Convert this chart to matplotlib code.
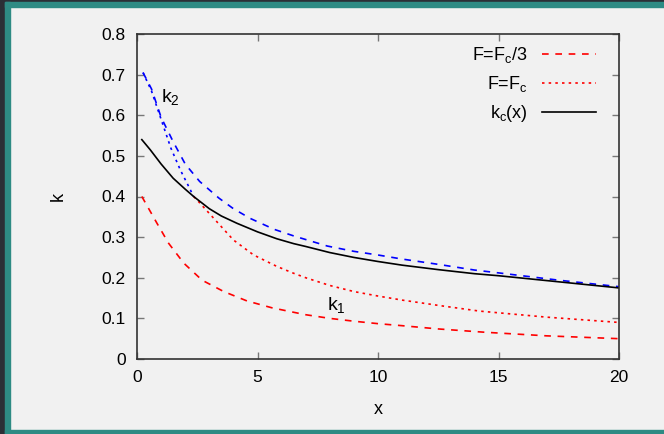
import matplotlib
matplotlib.use("Agg")
import matplotlib.pyplot as plt
from matplotlib.patches import Rectangle

plt.rcParams['font.family'] = ['Liberation Sans', 'DejaVu Sans']
plt.rcParams['mathtext.fontset'] = 'custom'
plt.rcParams['mathtext.rm'] = 'Liberation Sans'
plt.rcParams['mathtext.it'] = 'Liberation Sans'

# data
kc_x = [0.2, 0.55, 1.0, 1.5, 2.0, 2.35, 3.0, 3.5, 4.15, 5.0, 5.8, 6.5, 7.0, 8.0, 9.0, 10, 11, 12.5, 14, 15, 17.5, 20]
kc_y = [0.54, 0.515, 0.48, 0.445, 0.418, 0.40, 0.37, 0.352, 0.334, 0.313, 0.296, 0.284, 0.277, 0.262, 0.25, 0.240, 0.231, 0.22, 0.21, 0.205, 0.19, 0.175]

k2_third_x = [0.25, 0.6, 1.0, 1.5, 2.0, 2.6, 3.4, 4.0, 4.7, 5.7, 6.5, 7.9, 9.0, 10, 11, 12.5, 14, 15, 17.5, 20]
k2_third_y = [0.705, 0.665, 0.595, 0.535, 0.48, 0.437, 0.396, 0.37, 0.346, 0.319, 0.303, 0.278, 0.265, 0.256, 0.246, 0.233, 0.219, 0.212, 0.194, 0.178]

k1_third_x = [0.2, 0.83, 1.31, 1.94, 2.7, 3.6, 4.56, 5.6, 6.5, 7.0, 8.0, 9.0, 10, 11, 12.5, 14.4, 17, 20]
k1_third_y = [0.40, 0.334, 0.285, 0.236, 0.194, 0.166, 0.143, 0.126, 0.115, 0.109, 0.100, 0.093, 0.087, 0.082, 0.074, 0.066, 0.057, 0.05]

k2_fc_x = [0.25, 0.6, 1.0, 1.4, 1.8, 2.1, 2.35]
k2_fc_y = [0.705, 0.66, 0.59, 0.52, 0.465, 0.43, 0.40]

k1_fc_x = [2.35, 2.56, 3.25, 4.0, 4.84, 5.8, 6.5, 7.0, 8.0, 9.0, 10, 11, 12.5, 14.2, 17, 20]
k1_fc_y = [0.40, 0.387, 0.342, 0.293, 0.256, 0.228, 0.211, 0.200, 0.181, 0.166, 0.155, 0.145, 0.132, 0.118, 0.103, 0.09]

xticks = [0, 5, 10, 15, 20]
yticks = [0, 0.1, 0.2, 0.3, 0.4, 0.5, 0.6, 0.7, 0.8]
ytick_labels = ['0', '0.1', '0.2', '0.3', '0.4', '0.5', '0.6', '0.7', '0.8']

W, H = 664, 434
fig = plt.figure(figsize=(W / 100, H / 100), dpi=100, facecolor='#f1f1f1')

# frame decoration
dark = '#2b2f36'
teal = '#2e8b84'
fig.patches.append(Rectangle((0, 0), 5 / W, 1, transform=fig.transFigure, color=dark, zorder=0))
fig.patches.append(Rectangle((0, 1 - 2 / H), 1, 2 / H, transform=fig.transFigure, color=dark, zorder=0))
fig.patches.append(Rectangle((5 / W, 0), 5 / W, 1 - 2 / H, transform=fig.transFigure, color=teal, zorder=0))
fig.patches.append(Rectangle((5 / W, 1 - 7 / H), 1, 5 / H, transform=fig.transFigure, color=teal, zorder=0))
fig.patches.append(Rectangle((5 / W, 0), 1, 4 / H, transform=fig.transFigure, color=teal, zorder=0))

left, right, top, bottom = 137, 619, 34, 359
ax = fig.add_axes([left / W, 1 - bottom / H, (right - left) / W, (bottom - top) / H])
ax.set_facecolor('#f1f1f1')

lw = 1.2
l1, = ax.plot(k1_third_x, k1_third_y, color='#ff0000', lw=lw, dashes=(4, 4))
ax.plot(k2_third_x, k2_third_y, color='#0000ff', lw=lw, dashes=(4, 4))
l2, = ax.plot(k1_fc_x, k1_fc_y, color='#ff0000', lw=lw, dashes=(1.5, 2.5))
ax.plot(k2_fc_x, k2_fc_y, color='#0000ff', lw=lw, dashes=(1.5, 2.5))
l3, = ax.plot(kc_x, kc_y, color='black', lw=lw)

ax.set_xlim(0, 20)
ax.set_ylim(0, 0.8)
ax.set_xticks(xticks)
ax.set_xticklabels([str(t) for t in xticks])
ax.set_yticks(yticks)
ax.set_yticklabels(ytick_labels)
ax.tick_params(direction='in', length=5, width=1, color='#777777', top=True, right=True,
               labelsize=12.5, pad=8)
for s in ax.spines.values():
    s.set_color('#333333')
    s.set_linewidth(1.2)

ax.set_xlabel('x', fontsize=13)
ax.set_ylabel('k', fontsize=13, rotation=90)
ax.xaxis.set_label_coords(0.5, -0.13)
ax.yaxis.set_label_coords(-0.145, 0.5)

ax.text(1.0, 0.645, r'k$_2$', fontsize=14, va='center', ha='left')
ax.text(7.9, 0.133, r'k$_1$', fontsize=14, va='center', ha='left')

leg = ax.legend([l1, l2, l3], [r'F=F$_c$/3', r'F=F$_c$', r'k$_c$(x)'],
                loc='upper right', frameon=False, fontsize=13, markerfirst=False,
                handlelength=3.0, handletextpad=0.8, labelspacing=0.5,
                borderaxespad=0.2, bbox_to_anchor=(0.975, 1.0))
for t in leg.get_texts():
    t.set_ha('right')

fig.savefig('out.png', dpi=100, facecolor=fig.get_facecolor())
